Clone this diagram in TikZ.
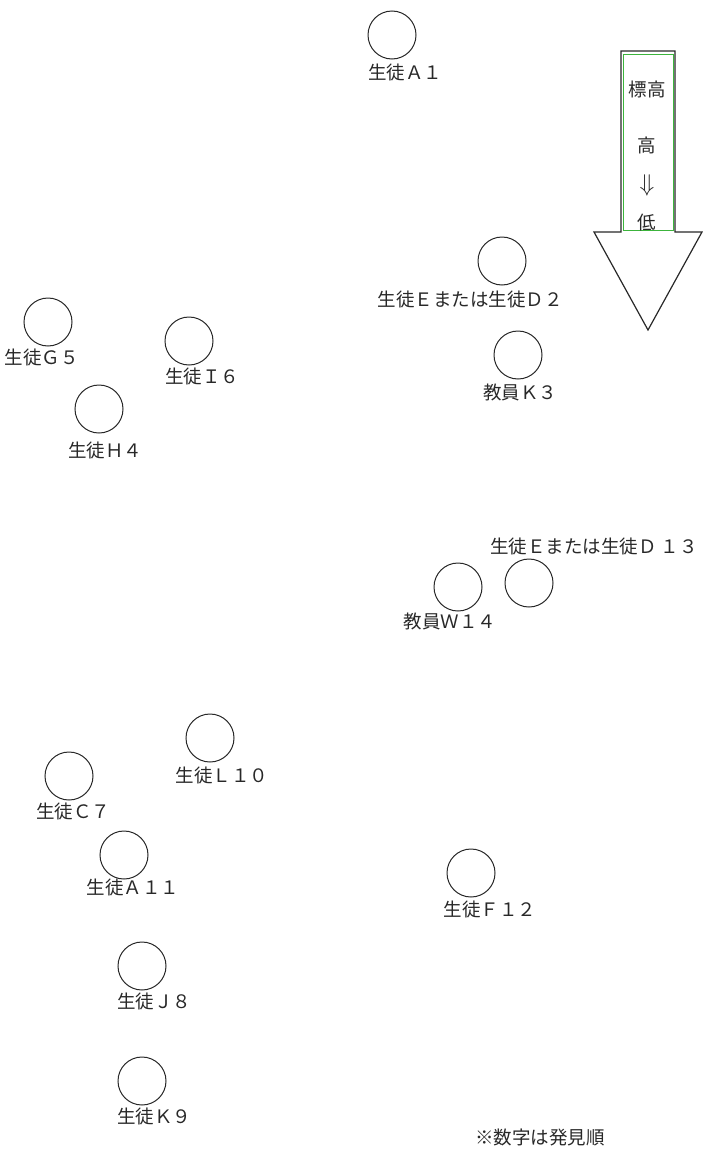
\documentclass[tikz,border=0pt]{standalone}
\usepackage{fontspec}
\newfontfamily\jp{Noto Sans CJK JP}
\usepackage{xcolor}
\definecolor{arrowgreen}{RGB}{60,180,60}
\definecolor{inkgray}{RGB}{40,40,40}

\begin{document}
\begin{tikzpicture}[x=1pt,y=-1pt,
    spot/.style={circle, draw=inkgray, line width=1pt, minimum size=48pt, inner sep=0pt},
    tag/.style={inner sep=0pt, text=inkgray, font=\jp\fontsize{18.5}{18.5}\selectfont}]
            \useasboundingbox (0,0) rectangle (703,1151);

            % Elevation arrow
            \draw[inkgray, line width=1.2pt, line join=miter]
                (621,51) -- (675,51) -- (675,232) -- (702,232) -- (648,330)
                -- (594,232) -- (621,232) -- cycle;
            \draw[arrowgreen, line width=0.6pt] (623,54) rectangle (673,230);
            \node[tag] (hyoko) at (647,89) {標高};
            \node[tag] (high) at (647,145) {高};
            \node[tag, scale=1.4] (down) at (647,185) {$\Downarrow$};
            \node[tag] (low) at (647,222) {低};

            % Upper area
            \node[spot] (a1) at (392,35) {};
            \node[tag] (a1lbl) at (405,72) {生徒Ａ１};
            \node[spot] (ed2) at (502,261) {};
            \node[tag] (ed2lbl) at (470,299) {生徒Ｅまたは生徒Ｄ２};
            \node[spot] (k3) at (518,355) {};
            \node[tag] (k3lbl) at (520,392) {教員Ｋ３};

            % Left group
            \node[spot] (g5) at (48,322) {};
            \node[tag] (g5lbl) at (42,357) {生徒Ｇ５};
            \node[spot] (i6) at (189,341) {};
            \node[tag] (i6lbl) at (202,376) {生徒Ｉ６};
            \node[spot] (h4) at (99,409) {};
            \node[tag] (h4lbl) at (105,450) {生徒Ｈ４};

            % Middle right
            \node[tag] (ed13lbl) at (594,546) {生徒Ｅまたは生徒Ｄ １３};
            \node[spot] (ed13) at (529,583) {};
            \node[spot] (w14) at (458,587) {};
            \node[tag] (w14lbl) at (450,621) {教員Ｗ１４};

            % Lower left
            \node[spot] (l10) at (210,738) {};
            \node[tag] (l10lbl) at (222,775) {生徒Ｌ１０};
            \node[spot] (c7) at (69,776) {};
            \node[tag] (c7lbl) at (73,811) {生徒Ｃ７};
            \node[spot] (a11) at (124,855) {};
            \node[tag] (a11lbl) at (133,887) {生徒Ａ１１};
            \node[spot] (f12) at (471,873) {};
            \node[tag] (f12lbl) at (490,909) {生徒Ｆ１２};
            \node[spot] (j8) at (142,966) {};
            \node[tag] (j8lbl) at (154,1001) {生徒Ｊ８};
            \node[spot] (k9) at (142,1081) {};
            \node[tag] (k9lbl) at (154,1116) {生徒Ｋ９};

            % Note
            \node[tag] (note) at (540,1137) {※数字は発見順};
        \end{tikzpicture}
\end{document}
